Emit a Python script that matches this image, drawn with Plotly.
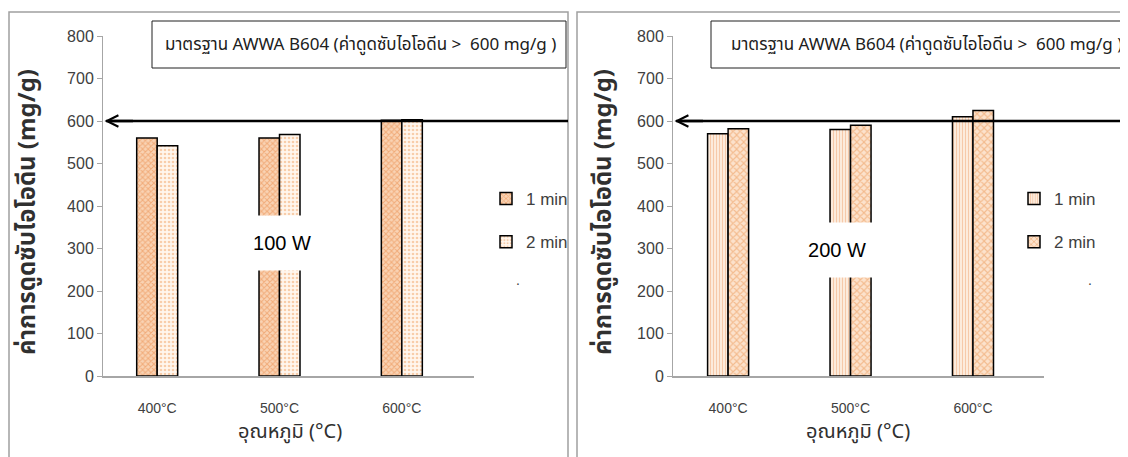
import plotly.graph_objects as go

categories = ["400°C", "500°C", "600°C"]
left_1min = [560, 560, 602]
left_2min = [542, 568, 603]
right_1min = [570, 580, 610]
right_2min = [582, 590, 625]
y_ticks = [0, 100, 200, 300, 400, 500, 600, 700, 800]
standard_value = 600
series_names = ["1 min", "2 min"]
power_labels = ["100 W", "200 W"]
std_text = "มาตรฐาน AWWA B604 (ค่าดูดซับไอโอดีน >  600 mg/g )"
y_title = "ค่าการดูดซับไอโอดีน (mg/g)"
x_title = "อุณหภูมิ (°C)"

W, H = 1128, 457
OFF = 8  # page body margin
THAI = "Noto Sans Thai, Leelawadee UI, Tahoma, Noto Sans, DejaVu Sans, sans-serif"
NUM = "Liberation Sans Narrow, Liberation Sans, Arial, sans-serif"

def px(x):
    return (x - OFF) / W

def py(y):
    return (H - (y - OFF)) / H

fig = go.Figure()

line = dict(color="black", width=1.5)
fig.add_trace(go.Bar(x=categories, y=left_1min, name=series_names[0], xaxis="x", yaxis="y",
                     legend="legend", legendgroup="a1",
                     marker=dict(color="#F6C29A", line=line,
                                 pattern=dict(shape="x", fgcolor="#E8843E", bgcolor="#F9D3B4", size=4, solidity=0.45))))
fig.add_trace(go.Bar(x=categories, y=left_2min, name=series_names[1], xaxis="x", yaxis="y",
                     legend="legend", legendgroup="a2",
                     marker=dict(color="#FCEBDD", line=line,
                                 pattern=dict(shape=".", fgcolor="#F2A466", bgcolor="#FFF6EE", size=4, solidity=0.35))))
fig.add_trace(go.Bar(x=categories, y=right_1min, name=series_names[0], xaxis="x2", yaxis="y2",
                     legend="legend2", legendgroup="b1",
                     marker=dict(color="#FBE0CC", line=line,
                                 pattern=dict(shape="|", fgcolor="#F0A470", bgcolor="#FDEEE2", size=3, solidity=0.4))))
fig.add_trace(go.Bar(x=categories, y=right_2min, name=series_names[1], xaxis="x2", yaxis="y2",
                     legend="legend2", legendgroup="b2",
                     marker=dict(color="#F8CDA8", line=line,
                                 pattern=dict(shape="x", fgcolor="#E9934F", bgcolor="#FCE2CC", size=5, solidity=0.4))))

ydom = [py(376), py(36)]
xcommon = dict(type="category", showline=True, linecolor="#A6A6A6", linewidth=1.5,
               ticks="", showgrid=False, zeroline=False, ticklabelstandoff=18, automargin=False,
               tickfont=dict(family=NUM, size=14, color="#404040"), fixedrange=True)
ycommon = dict(range=[0, 800], tickvals=y_ticks, showline=True, linecolor="#A6A6A6", linewidth=1,
               ticks="outside", ticklen=5, tickcolor="#A6A6A6", showgrid=False, zeroline=False,
               automargin=False,
               tickfont=dict(family=NUM, size=16, color="#404040"), domain=ydom)

fig.update_layout(
    width=W, height=H, margin=dict(l=0, r=0, t=0, b=0, autoexpand=False),
    paper_bgcolor="white", plot_bgcolor="rgba(0,0,0,0)",
    barmode="group", bargap=0.665, bargroupgap=0,
    xaxis=dict(domain=[px(103), px(474)], range=[-0.443, 2.59], anchor="y", **xcommon),
    yaxis=dict(anchor="x", **ycommon),
    xaxis2=dict(domain=[px(673), px(1044)], range=[-0.45, 2.58], anchor="y2", **xcommon),
    yaxis2=dict(anchor="x2", **ycommon),
    legend=dict(x=px(486), y=py(181), xanchor="left", yanchor="top", bgcolor="rgba(0,0,0,0)",
                font=dict(family=NUM, size=17, color="#404040"), tracegroupgap=18, itemwidth=30),
    legend2=dict(x=px(1014), y=py(181), xanchor="left", yanchor="top", bgcolor="rgba(0,0,0,0)",
                 font=dict(family=NUM, size=17, color="#404040"), tracegroupgap=18, itemwidth=30),
)

shapes = []
# panel frames
shapes.append(dict(type="rect", xref="paper", yref="paper", x0=px(9), x1=px(568), y0=py(480), y1=py(12),
                   line=dict(color="#A0A0A0", width=1.5), layer="below"))
shapes.append(dict(type="rect", xref="paper", yref="paper", x0=px(577), x1=px(1150), y0=py(480), y1=py(12),
                   line=dict(color="#A0A0A0", width=1.5), layer="below"))
# standard boxes
shapes.append(dict(type="rect", xref="paper", yref="paper", x0=px(152), x1=px(566), y0=py(68), y1=py(21),
                   line=dict(color="#202020", width=1)))
shapes.append(dict(type="rect", xref="paper", yref="paper", x0=px(711), x1=px(1150), y0=py(68), y1=py(21),
                   line=dict(color="#202020", width=1)))
# standard lines
shapes.append(dict(type="line", xref="paper", yref="y", x0=px(106), x1=px(568), y0=standard_value, y1=standard_value,
                   line=dict(color="black", width=2.5)))
shapes.append(dict(type="line", xref="paper", yref="y2", x0=px(676), x1=px(1140), y0=standard_value, y1=standard_value,
                   line=dict(color="black", width=2.5)))
fig.update_layout(shapes=shapes)

ann = []
# arrowheads
for xr, yr in (("x domain", "y"), ("x2 domain", "y2")):
    ann.append(dict(xref=xr, yref=yr, x=0.004, y=standard_value, ax=30, ay=0, text="", showarrow=True,
                    arrowhead=5, arrowsize=0.9, arrowwidth=2.5, arrowcolor="black"))
# standard text
for xc in (360, 926):
    ann.append(dict(xref="paper", yref="paper", x=px(xc), y=py(45), text=std_text, showarrow=False,
                    xanchor="center", yanchor="middle",
                    font=dict(family=THAI, size=17, color="#202020")))
# power labels with white box
ann.append(dict(xref="x", yref="y", x=categories[1], y=313, text=power_labels[0], showarrow=False,
                xanchor="center", yanchor="middle",
                bgcolor="white", width=90, height=52, xshift=2,
                font=dict(family=NUM, size=20, color="black")))
ann.append(dict(xref="x2", yref="y2", x=categories[1], y=296, text=power_labels[1], showarrow=False,
                xanchor="center", yanchor="middle",
                bgcolor="white", width=90, height=52, xshift=-14,
                font=dict(family=NUM, size=20, color="black")))
# axis titles
for xc in (28, 604):
    ann.append(dict(xref="paper", yref="paper", x=px(xc), y=py(212), text=y_title, textangle=-90,
                    xanchor="center", yanchor="middle",
                    showarrow=False, font=dict(family=THAI, size=24, color="#303030", weight="bold")))
for xc in (290, 858):
    ann.append(dict(xref="paper", yref="paper", x=px(xc), y=py(432), text=x_title,
                    xanchor="center", yanchor="middle",
                    showarrow=False, font=dict(family=THAI, size=20, color="#303030")))
# dots in legend area
for xc in (518, 1090):
    ann.append(dict(xref="paper", yref="paper", x=px(xc), y=py(280), text=".", showarrow=False,
                    xanchor="center", yanchor="middle",
                    font=dict(family=NUM, size=14, color="#404040")))
fig.update_layout(annotations=ann)

fig.write_html("out.html")
